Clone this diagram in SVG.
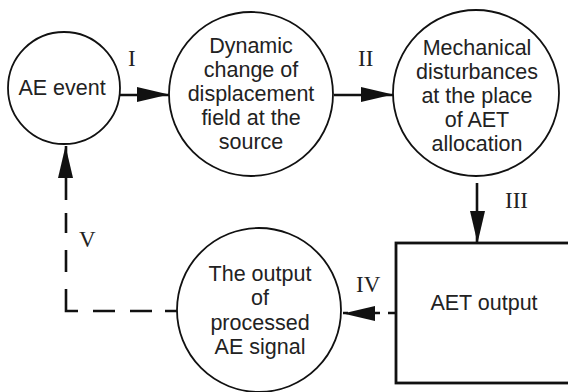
<svg xmlns="http://www.w3.org/2000/svg" width="568" height="392" viewBox="0 0 568 392">
<style>
.node{fill:#fff;stroke:#111;stroke-width:1.8}
.box{fill:#fff;stroke:#111;stroke-width:2.8}
.t{font-family:"Liberation Sans",Arial,sans-serif;font-size:21.5px;fill:#222;text-anchor:middle}
.lab{font-family:"Liberation Serif","Times New Roman",serif;font-size:23px;fill:#222}
.c{fill:none;stroke:#111;stroke-width:2.6}
</style>
<defs>
<marker id="ah" markerUnits="userSpaceOnUse" markerWidth="33" markerHeight="16" refX="32" refY="8" orient="auto">
<path d="M0,0 L32,7.5 L0,15 Z" fill="#111"/>
</marker>
</defs>
<g id="connectors">
<path class="c" d="M120,95 H169" marker-end="url(#ah)"/>
<path class="c" d="M334,95 H393" marker-end="url(#ah)"/>
<path class="c" d="M477,183 V243" marker-end="url(#ah)"/>
<path class="c" d="M396,313 H343" stroke-dasharray="8,8" marker-end="url(#ah)"/>
<path class="c" d="M177,311 H66 V146" stroke-dasharray="12,13,22,15,22,15,34,17,22,17,20,13,60,400" marker-end="url(#ah)"/>
<text class="lab" x="128" y="66">I</text>
<text class="lab" x="358" y="66">II</text>
<text class="lab" x="505" y="208">III</text>
<text class="lab" x="356" y="292">IV</text>
<text class="lab" x="79" y="247">V</text>
</g>
<g id="ae-event">
<circle class="node" cx="64" cy="88" r="56"/>
<text class="t" x="62" y="95">AE event</text>
</g>
<g id="dynamic-change">
<circle class="node" cx="251" cy="94" r="82"/>
<text class="t" x="251" y="53">Dynamic</text>
<text class="t" x="251" y="77">change of</text>
<text class="t" x="251" y="101">displacement</text>
<text class="t" x="251" y="125">field at the</text>
<text class="t" x="251" y="149">source</text>
</g>
<g id="mechanical-disturbances">
<circle class="node" cx="476" cy="93" r="83"/>
<text class="t" x="477" y="55">Mechanical</text>
<text class="t" x="477" y="79">disturbances</text>
<text class="t" x="477" y="103">at the place</text>
<text class="t" x="477" y="127">of AET</text>
<text class="t" x="477" y="151">allocation</text>
</g>
<g id="aet-output">
<rect class="box" x="396" y="243" width="200" height="140"/>
<text class="t" x="484" y="310">AET output</text>
</g>
<g id="processed-output">
<circle class="node" cx="259" cy="310" r="82"/>
<text class="t" x="260" y="281">The output</text>
<text class="t" x="260" y="305">of</text>
<text class="t" x="260" y="330">processed</text>
<text class="t" x="260" y="354">AE signal</text>
</g>
</svg>
